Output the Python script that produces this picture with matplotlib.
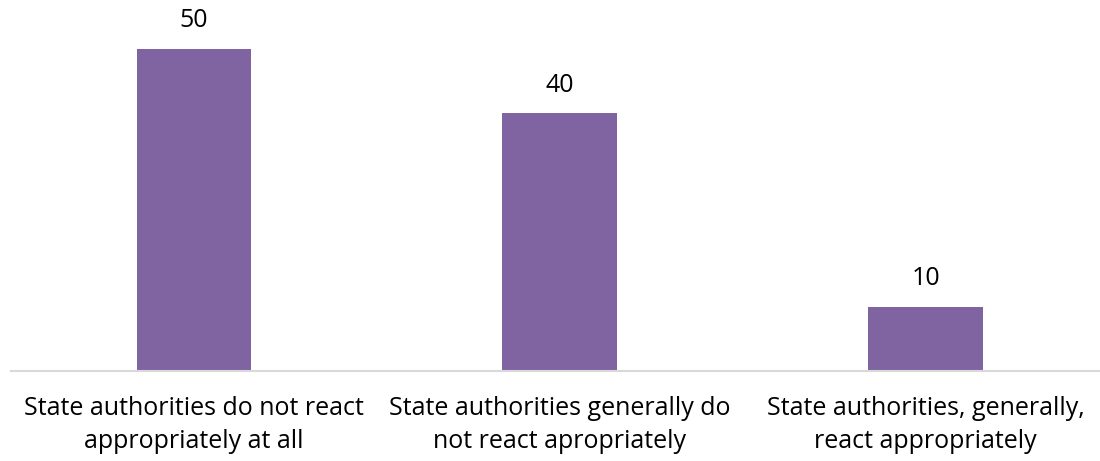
import matplotlib
matplotlib.use("Agg")
import matplotlib.pyplot as plt

categories = [
    "State authorities do not react\nappropriately at all",
    "State authorities generally do\nnot react apropriately",
    "State authorities, generally,\nreact appropriately",
]
values = [50, 40, 10]

plt.rcParams['font.family'] = ['Open Sans', 'DejaVu Sans']

fig = plt.figure(figsize=(11, 4.61), dpi=100)
ax = fig.add_axes([11/1100, 90/461, 1097.5/1100, 371/461])
x = list(range(len(values)))
bars = ax.bar(x, values, width=0.313, color="#8064A2", zorder=2)
ax.set_xlim(-0.5, 2.5)
ax.set_ylim(0, 57.55)
for s in ["top", "right", "left"]:
    ax.spines[s].set_visible(False)
ax.spines["bottom"].set_color("#D9D9D9")
ax.spines["bottom"].set_linewidth(1.5)
ax.set_yticks([])
ax.set_xticks(x)
ax.set_xticklabels(categories, fontsize=18, color="#000000", linespacing=1.4)
ax.tick_params(axis="x", length=0, pad=18)
for xi, v in zip(x, values):
    ax.annotate(str(v), (xi, v), xytext=(0, 11), textcoords="offset points",
                ha="center", va="bottom", fontsize=18, color="#000000")
fig.savefig("out.png", dpi=100)
